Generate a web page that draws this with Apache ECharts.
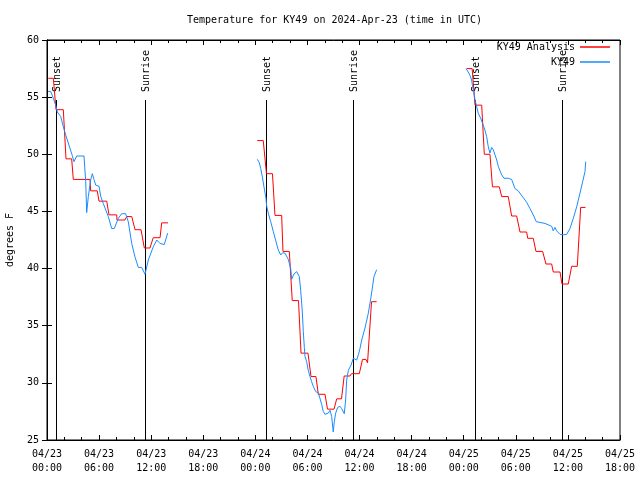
<!DOCTYPE html>
<html><head><meta charset="utf-8">
<script src="https://cdn.jsdelivr.net/npm/echarts@6/dist/echarts.min.js"></script>
<style>html,body{margin:0;padding:0;background:#fff}#c{width:640px;height:480px}</style>
</head><body><div id="c"></div>
<script>
// Time is expressed in hours since 2024-04-23 00:00 UTC
const xTickLabels = ['04/23\n00:00','04/23\n06:00','04/23\n12:00','04/23\n18:00','04/24\n00:00','04/24\n06:00','04/24\n12:00','04/24\n18:00','04/25\n00:00','04/25\n06:00','04/25\n12:00','04/25\n18:00'];
const yTicks = [25,30,35,40,45,50,55,60];

const sunTimes = [1.07, 11.3, 25.27, 35.28, 49.33, 59.35];
const sunNames = ['Sunset','Sunrise','Sunset','Sunrise','Sunset','Sunrise'];

// Analysis: [startHour, endHour, tempF]
const analysisDay1 = [[0.15,0.73,56.65],[1.04,1.88,53.9],[2.19,2.84,49.6],[3.03,4.95,47.8],[5.03,5.79,46.8],[5.99,6.88,45.9],[7.14,8.03,44.7],[8.06,8.98,44.25],[9.18,9.76,44.55],[10.14,10.83,43.4],[11.21,11.86,41.8],[12.24,13.02,42.7],[13.21,13.94,44.0]];
const analysisDay2 = [[24.22,24.91,51.2],[25.28,25.97,48.3],[26.26,27.03,44.65],[27.18,27.91,41.5],[28.25,28.97,37.2],[29.26,30.06,32.6],[30.41,30.98,30.55],[31.25,32.02,29.0],[32.31,33.06,27.7],[33.37,33.92,28.6],[34.23,34.9,30.6],[35.07,35.97,30.8],[36.34,36.74,32.05],[36.92,36.92,31.75],[37.38,37.97,37.1]];
const analysisDay3 = [[48.34,48.97,57.5],[49.3,50.07,54.3],[50.37,51.02,50.0],[51.31,52.1,47.15],[52.37,53.13,46.3],[53.52,54.1,44.6],[54.48,55.25,43.2],[55.37,56.01,42.65],[56.32,57.09,41.5],[57.47,58.13,40.4],[58.31,59.09,39.7],[59.32,60.04,38.65],[60.43,61.08,40.2],[61.47,62.02,45.35]];

// Observations: [hour, tempF]
const obsDay1 = [[0.12,55.5],[0.43,55.5],[0.73,54.9],[1.0,54.3],[1.19,53.7],[1.58,53.3],[1.88,52.4],[2.15,51.7],[2.53,50.8],[2.91,49.9],[3.11,49.35],[3.42,49.85],[4.26,49.85],[4.46,47.6],[4.57,44.9],[4.76,46.3],[5.03,47.75],[5.22,48.3],[5.41,47.8],[5.61,47.3],[5.99,47.2],[6.19,46.3],[6.48,45.7],[7.06,44.55],[7.45,43.5],[7.75,43.5],[8.21,44.4],[8.6,44.8],[9.06,44.8],[9.36,44.1],[9.76,42.2],[10.14,41.0],[10.52,40.1],[10.91,40.1],[11.29,39.5],[11.67,40.75],[12.24,41.9],[12.64,42.5],[13.02,42.2],[13.51,42.1],[13.9,43.1]];
const obsDay2 = [[24.22,49.56],[24.45,49.27],[24.61,48.77],[24.8,48.04],[24.99,47.16],[25.22,46.15],[25.3,45.48],[25.49,44.84],[25.77,44.1],[26.07,43.23],[26.38,42.35],[26.64,41.63],[26.92,41.19],[27.15,41.39],[27.41,41.35],[27.79,40.81],[28.07,40.02],[28.18,39.06],[28.45,39.53],[28.76,39.73],[28.94,39.8],[29.06,39.3],[29.22,38.1],[29.41,36.2],[29.52,34.5],[29.64,33.1],[29.72,32.3],[29.91,31.85],[30.09,31.1],[30.29,30.55],[30.48,30.1],[30.67,29.7],[30.94,29.25],[31.25,29.1],[31.44,28.65],[31.64,28.1],[31.82,27.5],[32.02,27.25],[32.4,27.35],[32.6,27.6],[32.79,27.05],[32.97,25.7],[33.09,26.6],[33.25,27.35],[33.48,27.85],[33.74,27.95],[33.94,27.75],[34.24,27.3],[34.4,28.5],[34.52,30.25],[34.71,31.1],[35.02,31.55],[35.28,32.15],[35.47,32.3],[35.67,32.0],[35.86,32.45],[36.05,33.0],[36.25,33.75],[36.63,34.8],[37.01,36.1],[37.32,37.5],[37.66,39.3],[37.97,39.9]];
const obsDay3 = [[48.26,57.5],[48.52,57.2],[48.72,56.9],[48.91,56.5],[49.03,55.9],[49.18,55.35],[49.29,54.8],[49.49,54.15],[49.67,53.6],[49.95,53.15],[50.18,52.7],[50.45,52.1],[50.64,51.55],[50.83,50.65],[51.02,50.1],[51.22,50.6],[51.4,50.4],[51.6,49.95],[51.8,49.5],[51.98,48.95],[52.18,48.55],[52.37,48.2],[52.64,47.9],[53.13,47.9],[53.52,47.8],[53.71,47.8],[53.9,47.0],[54.28,46.8],[54.48,46.65],[54.86,46.2],[55.25,45.8],[55.63,45.25],[56.01,44.7],[56.36,44.1],[56.59,43.95],[57.36,43.95],[57.56,43.8],[58.13,43.7],[58.31,43.3],[58.51,43.6],[58.7,43.3],[59.09,43.0],[59.47,42.95],[59.86,43.0],[60.24,43.5],[60.62,44.4],[61.01,45.4],[61.39,46.6],[61.7,47.6],[61.97,48.5],[62.05,49.35]];

const FONT = 'DejaVu Sans Mono';
const RED = '#ff0000', BLUE = '#1a8cff';

function stepsToPoints(steps){
  const pts = [];
  steps.forEach(s => { pts.push([s[0], s[2]]); if (s[1] !== s[0]) pts.push([s[1], s[2]]); });
  return pts;
}

const chart = echarts.init(document.getElementById('c'), null, {renderer:'canvas'});

function lineSeries(name, data, color){
  return {name, type:'line', data, showSymbol:false, symbol:'none', animation:false,
    lineStyle:{color, width:1}, itemStyle:{color}, z:3};
}

const xCommon = {type:'value', min:0, max:66, interval:6,
  axisLine:{show:true, lineStyle:{color:'#000', width:1}},
  axisTick:{show:true, inside:true, length:5, lineStyle:{color:'#000'}},
  minorTick:{show:true, splitNumber:3, length:3, lineStyle:{color:'#000'}},
  splitLine:{show:false}};
const yCommon = {type:'value', min:yTicks[0], max:yTicks[yTicks.length-1], interval:5,
  axisLine:{show:true, lineStyle:{color:'#000', width:1}},
  axisTick:{show:true, inside:true, length:5, lineStyle:{color:'#000'}},
  splitLine:{show:false}};

chart.setOption({
  backgroundColor:'#fff',
  animation:false,
  title:{text:'Temperature for KY49 on 2024-Apr-23 (time in UTC)', left:182, top:10,
    textStyle:{fontFamily:FONT, fontSize:10, fontWeight:'normal', color:'#000'}},
  legend:{data:['KY49 Analysis','KY49'], orient:'vertical', right:30, top:41, align:'right',
    icon:'rect', itemWidth:30, itemHeight:1.5, itemGap:3, padding:0,
    textStyle:{fontFamily:FONT, fontSize:10, color:'#000', lineHeight:12}},
  grid:{left:47, right:20, top:40, bottom:40, show:true, borderColor:'#000', borderWidth:1,
    containLabel:false, outerBoundsMode:'none'},
  xAxis:[
    Object.assign({}, xCommon, {position:'bottom',
      axisLabel:{show:true, margin:7, fontFamily:FONT, fontSize:10, color:'#000', lineHeight:14,
        formatter:function(v){ return xTickLabels[Math.round(v/6)] || ''; }}}),
    Object.assign({}, xCommon, {position:'top', axisLabel:{show:false}})
  ],
  yAxis:[
    Object.assign({}, yCommon, {position:'left', name:'degrees F', nameLocation:'middle', nameGap:32, nameRotate:90,
      nameTextStyle:{fontFamily:FONT, fontSize:10, color:'#000'},
      axisLabel:{show:true, margin:8, fontFamily:FONT, fontSize:10, color:'#000'}}),
    Object.assign({}, yCommon, {position:'right', axisLabel:{show:false}})
  ],
  series:[
    {type:'custom', name:'sun', z:1, silent:true, animation:false, clip:false,
      data: sunTimes.map(t => [t]),
      renderItem:function(params, api){
        const t = api.value(0);
        const p0 = api.coord([t, 25]);
        const p1 = api.coord([t, 54.75]);
        return {type:'group', children:[
          {type:'line', shape:{x1:Math.round(p0[0])+0.5, y1:p0[1], x2:Math.round(p1[0])+0.5, y2:p1[1]}, style:{stroke:'#000', lineWidth:1}},
          {type:'text', x:p1[0]+1, y:p1[1]-8, rotation:Math.PI/2,
            style:{text:sunNames[params.dataIndex], font:'10px "DejaVu Sans Mono"', textAlign:'left', textVerticalAlign:'middle', fill:'#000'}}
        ]};
      }},
    lineSeries('KY49 Analysis', stepsToPoints(analysisDay1), RED),
    lineSeries('KY49 Analysis', stepsToPoints(analysisDay2), RED),
    lineSeries('KY49 Analysis', stepsToPoints(analysisDay3), RED),
    lineSeries('KY49', obsDay1, BLUE),
    lineSeries('KY49', obsDay2, BLUE),
    lineSeries('KY49', obsDay3, BLUE)
  ]
});
</script></body></html>
